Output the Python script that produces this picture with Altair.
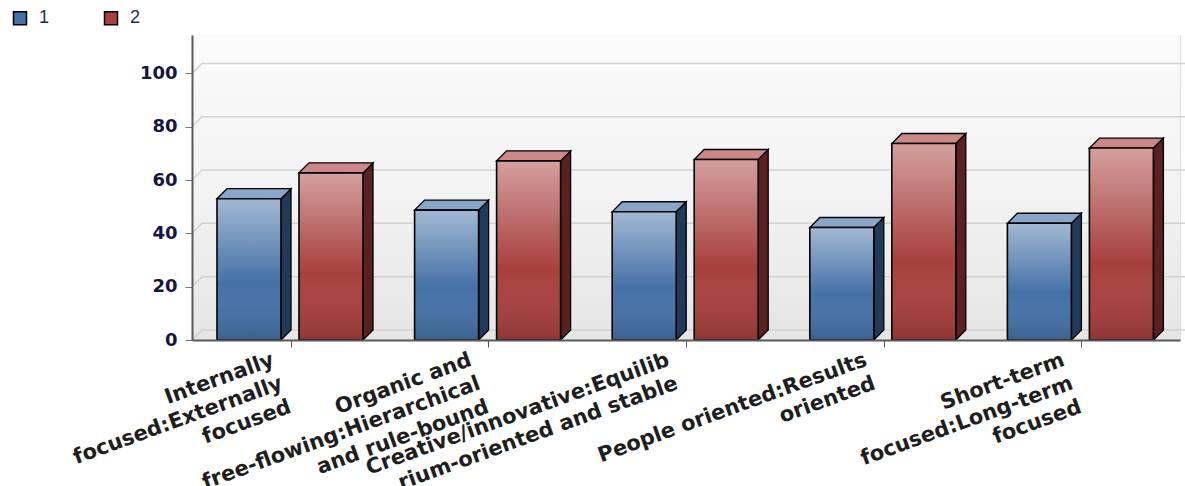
import json
import altair as alt
import pandas as pd

# ---------------- data ----------------
categories = [
    ["Internally", "focused:Externally", "focused"],
    ["Organic and", "free-flowing:Hierarchical", "and rule-bound"],
    ["Creative/innovative:Equilib", "rium-oriented and stable"],
    ["People oriented:Results", "oriented"],
    ["Short-term", "focused:Long-term", "focused"],
]
series_names = ["1", "2"]
values_1 = [53.0, 48.7, 48.1, 42.2, 43.8]
values_2 = [62.7, 67.2, 67.7, 73.7, 72.0]
y_ticks = [0, 20, 40, 60, 80, 100]

# ---------------- layout / style ----------------
W, H = 988, 305
YMAX = 114.4
N = len(categories)
STEP = W / N
DX = 10 / STEP            # 3D depth (x) in category units
DY = 10 * YMAX / H        # 3D depth (y) in value units
BAR_LEFT = {"1": 25 / STEP, "2": 107 / STEP}
BAR_W = 64 / STEP

front_colors = ["#4571a7", "#a8403d"]
side_colors = ["#223a5a", "#5a2120"]
top_colors = ["#88a5ca", "#cc8886"]

series_values = {"1": values_1, "2": values_2}

front_rows, side_rows, top_rows = [], [], []
for s in series_names:
    for i, v in enumerate(series_values[s]):
        xl = i + BAR_LEFT[s]
        xr = xl + BAR_W
        bid = f"{s}-{i}"
        front_rows.append({"series": s, "xl": xl, "xr": xr, "v": v})
        side_rows += [
            {"series": s, "bar": bid, "x": xr, "y": 0.0, "y2": v},
            {"series": s, "bar": bid, "x": xr + DX, "y": DY, "y2": v + DY},
        ]
        top_rows += [
            {"series": s, "bar": bid, "x": xl, "y": v, "y2": v},
            {"series": s, "bar": bid, "x": xl + DX, "y": v, "y2": v + DY},
            {"series": s, "bar": bid, "x": xr, "y": v, "y2": v + DY},
            {"series": s, "bar": bid, "x": xr + DX, "y": v + DY, "y2": v + DY},
        ]

grid_rows = []
for t in y_ticks:
    grid_rows += [
        {"t": t, "x": 0.0, "y": t},
        {"t": t, "x": DX, "y": t + DY},
        {"t": t, "x": N + DX, "y": t + DY},
    ]

front_df = pd.DataFrame(front_rows)
side_df = pd.DataFrame(side_rows)
top_df = pd.DataFrame(top_rows)
grid_df = pd.DataFrame(grid_rows)

xscale = alt.Scale(domain=[0, N], nice=False, zero=False)
yscale = alt.Scale(domain=[0, YMAX], nice=False, zero=True)

label_expr = f"{json.dumps(categories)}[floor(datum.value)]"

X_AX = alt.Axis(
    values=[i + 0.5 for i in range(N)], labelExpr=label_expr, title=None, grid=False,
    domainColor="#5a5a5a", domainWidth=2, tickColor="#555555", tickSize=7,
    labelAngle=340, labelAlign="right", labelBaseline="middle",
    labelFont="DejaVu Sans", labelFontWeight="bold", labelFontSize=21,
    labelColor="#1e1e1e", labelLineHeight=25, labelPadding=12, labelOffset=-18,
    labelOverlap=False, labelFlush=False, labelBound=False, labelLimit=0, zindex=1,
)
Y_AX = alt.Axis(
    values=y_ticks, title=None, grid=False,
    domainColor="#5a5a5a", domainWidth=2, tickColor="#777777", tickSize=7,
    labelFont="DejaVu Sans", labelFontWeight="bold", labelFontSize=18,
    labelColor="#15153d", labelPadding=8, zindex=1,
)

def X(field):
    return alt.X(field, type="quantitative", scale=xscale, axis=X_AX)

def Y(field):
    return alt.Y(field, type="quantitative", scale=yscale, axis=Y_AX, stack=None)

bg_grad = alt.LinearGradient(
    gradient="linear", x1=0, x2=0, y1=0, y2=1,
    stops=[
        alt.GradientStop(color="#fbfbfb", offset=0),
        alt.GradientStop(color="#f3f3f3", offset=0.5),
        alt.GradientStop(color="#e5e5e5", offset=1),
    ],
)
shade_grad = alt.LinearGradient(
    gradient="linear", x1=0, x2=0, y1=0, y2=1,
    stops=[
        alt.GradientStop(color="rgba(255,255,255,0.5)", offset=0),
        alt.GradientStop(color="rgba(255,255,255,0.0)", offset=0.6),
        alt.GradientStop(color="rgba(0,0,0,0.15)", offset=1),
    ],
)

bg = alt.Chart(pd.DataFrame({"a": [0]})).mark_rect(fill=bg_grad).encode(
    x=alt.value(0), x2=alt.value(W), y=alt.value(0), y2=alt.value(H)
)

grid = alt.Chart(grid_df).mark_line(color="#d2d2d2", strokeWidth=1.5).encode(
    x=X("x"), y=Y("y"), detail="t:N", order="x:Q"
)

side = alt.Chart(side_df).mark_area(orient="vertical", stroke="black", strokeWidth=1.3,
                                    strokeJoin="miter", opacity=1).encode(
    x=X("x"), y=Y("y"), y2="y2:Q", detail="bar:N",
    fill=alt.Fill("series:N", scale=alt.Scale(domain=series_names, range=side_colors), legend=None),
)

top = alt.Chart(top_df).mark_area(orient="vertical", stroke="black", strokeWidth=1.3,
                                  strokeJoin="miter", opacity=1).encode(
    x=X("x"), y=Y("y"), y2="y2:Q", detail="bar:N",
    fill=alt.Fill("series:N", scale=alt.Scale(domain=series_names, range=top_colors), legend=None),
)

front = alt.Chart(front_df).mark_rect(strokeWidth=0).encode(
    x=X("xl"), x2="xr:Q", y=Y("v"), y2=alt.datum(0),
    color=alt.Color(
        "series:N", scale=alt.Scale(domain=series_names, range=front_colors),
        legend=alt.Legend(
            orient="none", legendX=-181, legendY=-26, direction="horizontal", title=None,
            symbolType="square", symbolSize=169, symbolStrokeColor="black",
            symbolStrokeWidth=1.5, labelFont="Liberation Sans", labelFontSize=18,
            labelColor="#252b45", labelOffset=10, columnPadding=51,
        ),
    ),
)

front_shade = alt.Chart(front_df).mark_rect(fill=shade_grad, stroke="black", strokeWidth=1.6).encode(
    x=X("xl"), x2="xr:Q", y=Y("v"), y2=alt.datum(0),
)

chart = alt.layer(bg, grid, side, top, front, front_shade).resolve_scale(
    color="independent", fill="independent"
).properties(
    width=W, height=H,
    autosize=alt.AutoSizeParams(type="none"),
    padding={"left": 192, "top": 35, "right": 5, "bottom": 146},
).configure_view(stroke=None).configure(background="white")

chart.save("out.html", embed_options={"renderer": "svg", "actions": False})
